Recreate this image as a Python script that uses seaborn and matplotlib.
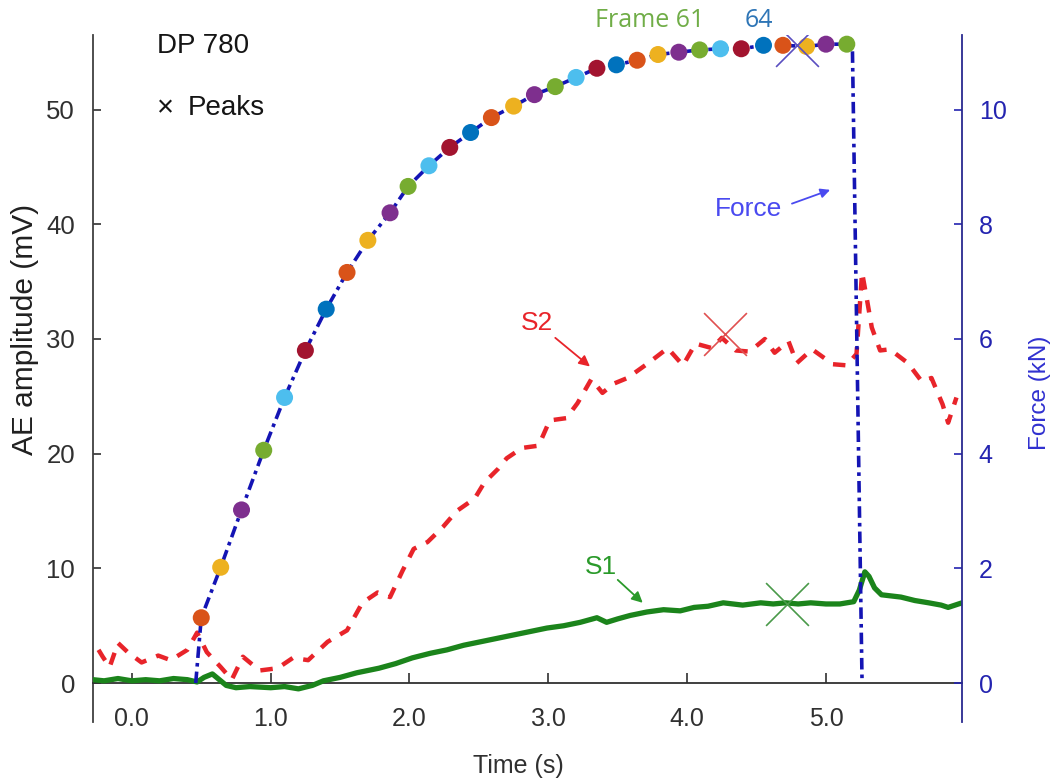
import numpy as np
import pandas as pd
import matplotlib
matplotlib.use("Agg")
import matplotlib.pyplot as plt
import seaborn as sns

# ---------------- data ----------------
frame_ids = [37, 38, 39, 40, 41, 42, 43, 44, 45, 46, 47, 48, 49, 50, 51, 52,
             53, 54, 55, 56, 57, 58, 59, 60, 61, 62, 63, 64, 65, 66, 67, 68]
frame_time = [0.50, 0.64, 0.79, 0.95, 1.10, 1.25, 1.40, 1.55, 1.70, 1.86, 1.99,
              2.14, 2.29, 2.44, 2.59, 2.75, 2.90, 3.05, 3.20, 3.35, 3.49, 3.64,
              3.79, 3.94, 4.09, 4.24, 4.39, 4.55, 4.69, 4.86, 5.00, 5.15]
frame_force = [1.14, 2.02, 3.02, 4.06, 4.98, 5.80, 6.52, 7.16, 7.72, 8.20, 8.66,
               9.02, 9.34, 9.60, 9.86, 10.06, 10.26, 10.40, 10.56, 10.72, 10.78,
               10.86, 10.96, 11.00, 11.04, 11.06, 11.06, 11.12, 11.12, 11.10,
               11.14, 11.14]
force_start_time, force_start_val = [0.46], [0.0]
force_end_time, force_end_val = [5.19, 5.26], [11.14, 0.0]

s2_time = [-0.24, -0.21, -0.16, -0.10, -0.03, 0.07, 0.19, 0.28, 0.40, 0.47, 0.54,
           0.64, 0.72, 0.80, 0.92, 1.05, 1.16, 1.27, 1.41, 1.55, 1.66, 1.77,
           1.86, 1.95, 2.03, 2.13, 2.24, 2.34, 2.47, 2.54, 2.64, 2.70, 2.81,
           2.93, 3.01, 3.13, 3.21, 3.31, 3.39, 3.47, 3.57, 3.72, 3.86, 3.97,
           4.06, 4.18, 4.25, 4.35, 4.45, 4.56, 4.63, 4.73, 4.79, 4.90, 5.05,
           5.15, 5.22, 5.26, 5.30, 5.33, 5.39, 5.46, 5.59, 5.69, 5.76, 5.84,
           5.88, 5.94]
s2_amp = [2.9, 2.3, 1.4, 3.5, 2.7, 1.8, 2.4, 2.0, 2.9, 4.4, 2.7,
          1.4, 0.3, 2.3, 1.1, 1.3, 2.2, 2.0, 3.6, 4.6, 7.0, 7.9,
          7.5, 9.8, 11.7, 12.3, 13.6, 15.0, 16.1, 17.5, 18.7, 19.6, 20.5,
          20.7, 22.9, 23.1, 24.4, 26.5, 25.3, 26.1, 26.6, 27.9, 29.2, 27.7,
          29.6, 29.2, 30.1, 29.0, 28.9, 30.0, 28.8, 29.8, 27.9, 29.1, 27.8,
          27.7, 28.7, 35.8, 33.1, 31.0, 29.0, 29.1, 27.9, 26.3, 26.6, 24.3,
          22.7, 24.9]

s1_time = [-0.28, -0.20, -0.10, 0.00, 0.10, 0.20, 0.30, 0.40, 0.47, 0.52, 0.58,
           0.63, 0.68, 0.75, 0.85, 1.00, 1.10, 1.20, 1.30, 1.38, 1.50, 1.62,
           1.78, 1.90, 2.02, 2.15, 2.27, 2.39, 2.51, 2.63, 2.75, 2.87, 2.99,
           3.11, 3.23, 3.35, 3.42, 3.50, 3.59, 3.71, 3.83, 3.95, 4.05, 4.15,
           4.26, 4.40, 4.53, 4.62, 4.71, 4.80, 4.89, 5.00, 5.10, 5.20, 5.24,
           5.28, 5.31, 5.35, 5.40, 5.54, 5.64, 5.74, 5.83, 5.88, 5.98]
s1_amp = [0.3, 0.2, 0.4, 0.2, 0.3, 0.2, 0.4, 0.3, 0.1, 0.5, 0.8,
          0.3, -0.2, -0.4, -0.3, -0.4, -0.3, -0.5, -0.2, 0.2, 0.5, 0.9,
          1.3, 1.7, 2.2, 2.6, 2.9, 3.3, 3.6, 3.9, 4.2, 4.5, 4.8,
          5.0, 5.3, 5.7, 5.3, 5.6, 5.9, 6.2, 6.4, 6.3, 6.6, 6.7,
          7.0, 6.8, 7.0, 6.9, 7.0, 6.9, 7.0, 6.9, 6.9, 7.1, 8.1,
          9.7, 9.3, 8.3, 7.7, 7.5, 7.2, 7.0, 6.8, 6.6, 7.0]

peak_force = (4.79, 11.13)
peak_s2 = (4.27, 30.4)
peak_s1 = (4.72, 6.9)

x_ticks = [0, 1, 2, 3, 4, 5]
x_ticklabels = ["0.0", "1.0", "2.0", "3.0", "4.0", "5.0"]
ae_ticks = [0, 10, 20, 30, 40, 50]
force_ticks = [0, 2, 4, 6, 8, 10]

# ---------------- style ----------------
sns.set_theme(style="white")
plt.rcParams["font.family"] = ["Liberation Sans", "DejaVu Sans"]

base_colors = ["#0072BD", "#D95319", "#EDB120", "#7E2F8E",
               "#77AC30", "#4DBEEE", "#A2142F"]
frame_colors = [base_colors[(i + 1) % 7] for i in range(len(frame_ids))]

NAVY = "#1414b4"
AXBLUE = "#2424b0"
RED = "#e8242a"
GREEN = "#1b841b"

fig = plt.figure(figsize=(10.53, 7.83), dpi=100)
ax = fig.add_axes([0.0883, 0.0779, 0.8253, 0.8774])
ax2 = ax.twinx()

ymin, ymax = -3.39, 56.5
ax.set_xlim(-0.28, 5.98)
ax.set_ylim(ymin, ymax)
ax2.set_ylim(ymin / 5, ymax / 5)

# S1, S2 on AE axis
s1_df = pd.DataFrame({"t": s1_time, "a": s1_amp})
s2_df = pd.DataFrame({"t": s2_time, "a": s2_amp})
sns.lineplot(data=s1_df, x="t", y="a", ax=ax, color=GREEN, lw=3.8,
             estimator=None, sort=False, zorder=3)
sns.lineplot(data=s2_df, x="t", y="a", ax=ax, color=RED, lw=3.2,
             estimator=None, sort=False, zorder=3)
ax.lines[-1].set_dashes([2.8, 2.4])

# Force on right axis
force_df = pd.DataFrame({
    "t": force_start_time + frame_time + force_end_time,
    "f": force_start_val + frame_force + force_end_val,
})
sns.lineplot(data=force_df, x="t", y="f", ax=ax2, color=NAVY, lw=2.6,
             estimator=None, sort=False, zorder=3)
ax2.lines[-1].set_dashes([3.2, 1.4, 1.0, 1.4])

frames_df = pd.DataFrame({"t": frame_time, "f": frame_force, "frame": frame_ids})
sns.scatterplot(data=frames_df, x="t", y="f", hue="frame", palette=frame_colors,
                ax=ax2, s=150, linewidth=0, legend=False, zorder=4)

# peaks
ax2.scatter([peak_force[0]], [peak_force[1]], marker="x", s=950, lw=1.2,
            color="#5a4fc0", zorder=5)
ax.scatter([peak_s2[0]], [peak_s2[1]], marker="x", s=950, lw=1.2,
           color="#e05050", zorder=5)
ax.scatter([peak_s1[0]], [peak_s1[1]], marker="x", s=950, lw=1.2,
           color="#4a9a4a", zorder=5)

# ---------------- axes styling ----------------
for sp in ["top", "right"]:
    ax.spines[sp].set_visible(False)
ax.spines["bottom"].set_position(("data", 0))
ax.spines["bottom"].set_color("#303030")
ax.spines["left"].set_color("#404040")
for sp in ["top", "left", "bottom"]:
    ax2.spines[sp].set_visible(False)
ax2.spines["right"].set_color("#2a2a90")
ax2.spines["right"].set_linewidth(1.3)
ax.spines["left"].set_linewidth(1.3)
ax.spines["bottom"].set_linewidth(1.3)

ax.set_xticks(x_ticks)
ax.set_xticklabels(x_ticklabels)
ax.set_yticks(ae_ticks)
ax2.set_yticks(force_ticks)
ax.tick_params(axis="x", direction="in", length=7, width=1.2, pad=17,
               labelsize=18, colors="#303030", bottom=True)
ax.tick_params(axis="y", direction="in", length=6, width=1.2, pad=13,
               labelsize=18.5, colors="#303030", left=True)
ax2.tick_params(axis="y", direction="in", length=6, width=1.2, pad=12,
                labelsize=18, colors=AXBLUE, right=True)

ax.set_xlabel("Time (s)", fontsize=18, color="#303030")
ax.xaxis.set_label_coords(0.490, -0.046)
ax.set_ylabel("AE amplitude (mV)", fontsize=21.5, color="#202020")
ax.yaxis.set_label_coords(-0.062, 0.571)
ax2.set_ylabel("Force (kN)", fontsize=17.5, color="#3030d0")
ax2.yaxis.set_label_coords(1.077, 0.479)

# ---------------- annotations ----------------
ax.text(0.18, 55.5, "DP 780", fontsize=20, color="#151515", ha="left", va="center")
ax.text(0.18, 50.1, "\u00d7", fontsize=21, color="#151515", ha="left", va="center")
ax.text(0.40, 50.1, "Peaks", fontsize=20, color="#151515", ha="left", va="center")

ax.text(3.73, 57.8, "Frame 61", fontsize=18, color="#70AD47", ha="center",
        va="center", family=["Open Sans", "DejaVu Sans"], clip_on=False)
ax.text(4.52, 57.8, "64", fontsize=18, color="#2E75B6", ha="center",
        va="center", family=["Open Sans", "DejaVu Sans"], clip_on=False)

ax.text(4.44, 41.3, "Force", fontsize=19, color="#4a4af0", ha="center", va="center")
ax.annotate("", xy=(5.03, 43.0), xytext=(4.755, 41.8),
            arrowprops=dict(arrowstyle="-|>", color="#4a4af0", lw=1.3,
                            shrinkA=0, shrinkB=0, mutation_scale=14))
ax.text(2.92, 31.4, "S2", fontsize=19, color=RED, ha="center", va="center")
ax.annotate("", xy=(3.30, 27.6), xytext=(3.05, 30.1),
            arrowprops=dict(arrowstyle="-|>", color=RED, lw=1.3,
                            shrinkA=0, shrinkB=0, mutation_scale=16))
ax.text(3.38, 10.1, "S1", fontsize=19, color="#2a9a2a", ha="center", va="center")
ax.annotate("", xy=(3.68, 7.0), xytext=(3.50, 9.0),
            arrowprops=dict(arrowstyle="-|>", color="#2a9a2a", lw=1.3,
                            shrinkA=0, shrinkB=0, mutation_scale=16))

fig.savefig("out.png", dpi=100)
